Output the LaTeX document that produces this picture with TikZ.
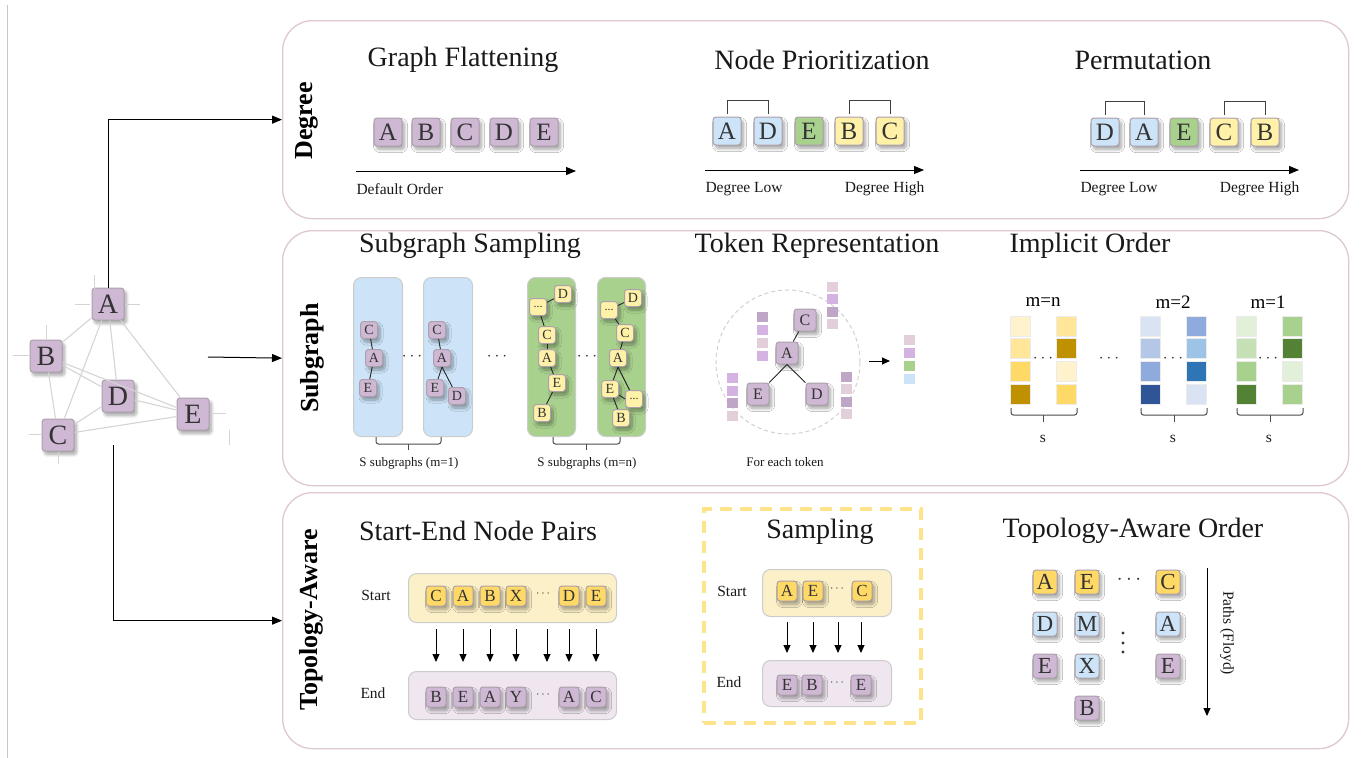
\documentclass[tikz,border=0pt]{standalone}
\usepackage{fontspec}
\setmainfont{Liberation Serif}
\usetikzlibrary{arrows.meta,shadows.blur,calc}
\newcommand\fsz[1]{\fontsize{#1}{#1}\selectfont}
\definecolor{txt}{HTML}{333333}
\definecolor{ndb}{HTML}{ABA0AB}
\definecolor{cpur}{HTML}{CFB8D4}
\definecolor{cblu}{HTML}{CDE4F8}
\definecolor{cgrn}{HTML}{A9D18E}
\definecolor{clyel}{HTML}{FFF2A8}
\definecolor{cdyel}{HTML}{FFD966}
\definecolor{panelc}{HTML}{DEC8D0}
\definecolor{edgec}{HTML}{D4D4D4}
\definecolor{sboxc}{HTML}{FCF0C8}
\definecolor{eboxc}{HTML}{EFE6EF}
\definecolor{colb}{HTML}{CDE4F8}
\definecolor{colg}{HTML}{A9D18E}
\definecolor{tmv}{HTML}{BFA6C6}
\definecolor{tpu}{HTML}{D4B2E2}
\definecolor{tpk}{HTML}{E3CFD9}
\definecolor{cdash}{HTML}{FFE38A}
\definecolor{ya}{HTML}{FFF2CC}\definecolor{yb}{HTML}{FFE699}\definecolor{yc}{HTML}{FFD966}\definecolor{yd}{HTML}{BF9000}
\definecolor{ba}{HTML}{DAE3F3}\definecolor{bb}{HTML}{B4C7E7}\definecolor{bc}{HTML}{8FAADC}\definecolor{bd}{HTML}{2F5597}
\definecolor{be}{HTML}{9DC3E6}\definecolor{bf}{HTML}{2E75B6}
\definecolor{ga}{HTML}{E2F0D9}\definecolor{gb}{HTML}{C5E0B4}\definecolor{gc}{HTML}{A9D18E}\definecolor{gd}{HTML}{548235}
\begin{document}
\begin{tikzpicture}[x=1pt,y=-1pt,
  panel/.style={draw=panelc, line width=1.3pt, rounded corners=30pt, fill=white, inner sep=0pt},
  sect/.style={font=\fsz{26}\bfseries, text=black},
  ttl/.style={font=\fsz{28}, text=black!90},
  lbl/.style={font=\fsz{15.5}, text=black!90},
  sml/.style={font=\fsz{13}, text=black!90},
  tk/.style={draw=ndb, line width=1pt, rounded corners=3pt, inner sep=0pt, text=txt,
     blur shadow={shadow blur steps=10, shadow xshift=2.5pt, shadow yshift=-3.5pt, shadow blur radius=3pt, shadow opacity=35}},
  pu/.style={tk, fill=cpur}, bl/.style={tk, fill=cblu}, gr/.style={tk, fill=cgrn},
  ly/.style={tk, fill=clyel}, dy/.style={tk, fill=cdyel},
  sA/.style={minimum size=32pt, font=\fsz{28}},
  sB/.style={minimum size=28pt, font=\fsz{25}},
  sC/.style={minimum size=24pt, font=\fsz{23}},
  sD/.style={minimum size=22pt, font=\fsz{16}},
  sE/.style={minimum size=20pt, font=\fsz{17}},
  sF/.style={minimum size=17pt, font=\fsz{14}},
  gedge/.style={draw=edgec, line width=1.1pt},
  stub/.style={draw=edgec, line width=1pt},
  tedge/.style={draw=black!85, line width=0.9pt},
  arr/.style={-{Triangle[length=10pt,width=8pt]}, line width=1pt, black},
  arrs/.style={-{Triangle[length=8pt,width=7pt]}, line width=1pt, black},
  brk/.style={draw=black!75, line width=1pt},
  brc/.style={draw=black!70, line width=1pt, rounded corners=2.5pt},
  colbox/.style={draw=black!20, line width=1pt, rounded corners=8pt, inner sep=0pt},
  sq/.style={minimum width=11pt, minimum height=10pt, inner sep=0pt, draw=none},
  iq/.style={minimum size=20pt, inner sep=0pt, draw=black!8, line width=0.8pt},
  pbox/.style={draw=black!20, line width=1pt, rounded corners=8pt, inner sep=0pt},
  dts/.style={font=\fsz{16}, text=black!80, inner sep=0pt}
]
\useasboundingbox (0,0) rectangle (1361,758);
\draw[gray!45, line width=1pt] (7,5) -- (7,758);

% panels
\node[panel, minimum width=1066pt, minimum height=198pt, anchor=north west] (deg) at (282,20) {};
\node[panel, minimum width=1066pt, minimum height=255pt, anchor=north west] (sub) at (282,230) {};
\node[panel, minimum width=1066pt, minimum height=256pt, anchor=north west] (top) at (282,492) {};

\node[sect, rotate=90] (ldeg) at (307,121) {Degree};
\node[sect, rotate=90] (lsub) at (312,358) {Subgraph};
\node[sect, rotate=90] (ltop) at (311,620) {Topology-Aware};

% ---------- graph ----------
\node[pu,sA] (gA) at (108,304) {A};
\node[pu,sA] (gB) at (46,356) {B};
\node[pu,sA] (gC) at (58,435) {C};
\node[pu,sA] (gD) at (118,396) {D};
\node[pu,sA] (gE) at (193,414) {E};
\foreach \a/\b in {gA/gB,gA/gC,gA/gD,gA/gE,gB/gC,gB/gD,gB/gE,gC/gD,gC/gE,gD/gE}
  \draw[gedge] (\a) -- (\b);
\draw[stub] (75,304) -- (90,304) (125,304) -- (140,304) (94,275) -- (94,289);
\draw[stub] (13,355) -- (29,355) (46,325) -- (46,339);
\draw[stub] (29,434) -- (41,434) (58,452) -- (58,464);
\draw[stub] (210,413) -- (226,413) (229,430) -- (229,445);

\coordinate (m0) at (208,357);
\coordinate (b0) at (113,445);
\draw[arr] (gA.north) |- (deg.west);
\draw[arr] (m0) -- (sub.west);
\draw[arr] (b0) |- (top.west);

% ---------- Degree panel ----------
\node[ttl] (t1) at (463,60) {Graph Flattening};
\node[ttl] (t2) at (822,60) {Node Prioritization};
\node[ttl] (t3) at (1143,60) {Permutation};

\node[pu,sB] (f1) at (388,132) {A};
\node[pu,sB] (f2) at (426,132) {B};
\node[pu,sB] (f3) at (465,132) {C};
\node[pu,sB] (f4) at (504,132) {D};
\node[pu,sB] (f5) at (544,132) {E};
\coordinate (fa0) at (356,171); \coordinate (fa1) at (576,171);
\draw[arr] (fa0) -- (fa1);
\node[lbl, anchor=west] (fl) at (353,189) {Default Order};

\node[bl,sB] (p1) at (727,131) {A};
\node[bl,sB] (p2) at (768,131) {D};
\node[gr,sB] (p3) at (809,131) {E};
\node[ly,sB] (p4) at (849,131) {B};
\node[ly,sB] (p5) at (890,131) {C};
\draw[brk] ([yshift=3pt]p1.north) -- ++(0,-13) -| ([yshift=3pt]p2.north);
\draw[brk] ([yshift=3pt]p4.north) -- ++(0,-13) -| ([yshift=3pt]p5.north);
\coordinate (pa0) at (705,170); \coordinate (pa1) at (924,170);
\draw[arr] (pa0) -- (pa1);
\node[lbl, anchor=west] (pl1) at (702,189) {Degree Low};
\node[lbl, anchor=east] (pl2) at (928,189) {Degree High};

\node[bl,sB] (r1) at (1105,132) {D};
\node[bl,sB] (r2) at (1144,132) {A};
\node[gr,sB] (r3) at (1184,132) {E};
\node[ly,sB] (r4) at (1224,132) {C};
\node[ly,sB] (r5) at (1265,132) {B};
\draw[brk] ([yshift=3pt]r1.north) -- ++(0,-13) -| ([yshift=3pt]r2.north);
\draw[brk] ([yshift=3pt]r4.north) -- ++(0,-13) -| ([yshift=3pt]r5.north);
\coordinate (ra0) at (1080,170); \coordinate (ra1) at (1299,170);
\draw[arr] (ra0) -- (ra1);
\node[lbl, anchor=west] (rl1) at (1077,189) {Degree Low};
\node[lbl, anchor=east] (rl2) at (1303,189) {Degree High};

% ---------- Subgraph panel ----------
\node[ttl] (t4) at (470,246) {Subgraph Sampling};
\node[ttl] (t5) at (817,246) {Token Representation};
\node[ttl] (t6) at (1090,246) {Implicit Order};

\node[colbox, fill=colb, minimum width=49pt, minimum height=159pt, anchor=north west] (c1) at (353,277) {};
\node[colbox, fill=colb, minimum width=49pt, minimum height=159pt, anchor=north west] (c2) at (423,277) {};
\node[colbox, fill=colg, minimum width=48pt, minimum height=159pt, anchor=north west] (c3) at (527,277) {};
\node[colbox, fill=colg, minimum width=48pt, minimum height=159pt, anchor=north west] (c4) at (597,277) {};

\node[pu,sF] (a1C) at (369,330) {C};
\node[pu,sF] (a1A) at (374,358) {A};
\node[pu,sF] (a1E) at (368,388) {E};
\draw[tedge] (a1C) -- (a1A); \draw[tedge] (a1A) -- (a1E);

\node[pu,sF] (a2C) at (437,330) {C};
\node[pu,sF] (a2A) at (442,358) {A};
\node[pu,sF] (a2E) at (435,388) {E};
\node[pu,sF] (a2D) at (457,396) {D};
\draw[tedge] (a2C) -- (a2A); \draw[tedge] (a2A.south) -- (a2E); \draw[tedge] (a2A.south) -- (a2D);

\node[ly,sF] (a3D) at (563,294) {D};
\node[ly,sF,font=\fsz{12}] (a3x) at (538,307) {...};
\node[ly,sF] (a3C) at (547,335) {C};
\node[ly,sF] (a3A) at (547,358) {A};
\node[ly,sF] (a3E) at (557,383) {E};
\node[ly,sF] (a3B) at (542,413) {B};
\draw[tedge] (a3D) -- (a3x); \draw[tedge] (a3x) -- (a3C); \draw[tedge] (a3C) -- (a3A);
\draw[tedge] (a3A) -- (a3E); \draw[tedge] (a3E) -- (a3B);

\node[ly,sF] (a4D) at (633,298) {D};
\node[ly,sF,font=\fsz{12}] (a4x) at (609,310) {...};
\node[ly,sF] (a4C) at (625,333) {C};
\node[ly,sF] (a4A) at (618,358) {A};
\node[ly,sF] (a4E) at (610,389) {E};
\node[ly,sF,font=\fsz{12}] (a4y) at (634,399) {...};
\node[ly,sF] (a4B) at (621,418) {B};
\draw[tedge] (a4D) -- (a4x); \draw[tedge] (a4x) -- (a4C); \draw[tedge] (a4C) -- (a4A);
\draw[tedge] (a4A.south) -- (a4E); \draw[tedge] (a4A.south) -- (a4y); \draw[tedge] (a4E) -- (a4y.west); \draw[tedge] (a4E) -- (a4B);

\node[dts] (cd1) at (412,357) {$\cdots$};
\node[dts] (cd2) at (497,357) {$\cdots$};
\node[dts] (cd3) at (587,357) {$\cdots$};

\draw[brc] (376,437) -- (376,444) -- (441,444) -- (441,437);
\draw[brc] (408.5,444) -- (408.5,450);
\draw[brc] (553,437) -- (553,444) -- (620,444) -- (620,437);
\draw[brc] (586.5,444) -- (586.5,450);
\node[sml] (sl1) at (409,463) {S subgraphs (m=1)};
\node[sml] (sl2) at (587,463) {S subgraphs (m=n)};

% token representation
\draw[dashed, draw=black!18, line width=1pt, dash pattern=on 4pt off 3pt] (788,362) circle (72pt);
\node[pu,sD] (tC) at (805,320) {C};
\node[pu,sD] (tA) at (787,353) {A};
\node[pu,sD] (tE) at (758,394) {E};
\node[pu,sD] (tD) at (817,394) {D};
\draw[tedge] (tC) -- (tA); \draw[tedge] (tA.south) -- (tE); \draw[tedge] (tA.south) -- (tD);

\node[sq, fill=tmv] (qa1) at (762,317) {};
\node[sq, fill=tpu] (qa2) at (762,330) {};
\node[sq, fill=tpk] (qa3) at (762,343) {};
\node[sq, fill=tpu] (qa4) at (762,356) {};
\node[sq, fill=tpk] (qc1) at (832,287) {};
\node[sq, fill=tpu] (qc2) at (832,299) {};
\node[sq, fill=tmv] (qc3) at (832,312) {};
\node[sq, fill=tpk] (qc4) at (832,324) {};
\node[sq, fill=tpu] (qe1) at (732,378) {};
\node[sq, fill=tpu] (qe2) at (732,391) {};
\node[sq, fill=tmv] (qe3) at (732,403) {};
\node[sq, fill=tpk] (qe4) at (732,416) {};
\node[sq, fill=tmv] (qd1) at (846,377) {};
\node[sq, fill=tpk] (qd2) at (846,389) {};
\node[sq, fill=tmv] (qd3) at (846,402) {};
\node[sq, fill=tpk] (qd4) at (846,414) {};

\coordinate (ta0) at (869,361); \coordinate (ta1) at (890,361);
\draw[arrs] (ta0) -- (ta1);
\node[sq, fill=tpk] (qo1) at (909,340) {};
\node[sq, fill=tpu] (qo2) at (909,353) {};
\node[sq, fill=cgrn] (qo3) at (909,366) {};
\node[sq, fill=cblu] (qo4) at (909,379) {};
\node[sml] (tl) at (785,462) {For each token};

% implicit order
\node[font=\fsz{19}] (mn) at (1043,302) {m=n};
\node[font=\fsz{19}] (m2) at (1173,302) {m=2};
\node[font=\fsz{19}] (m1) at (1268,302) {m=1};
\foreach \c [count=\i] in {ya,yb,yc,yd} \node[iq, fill=\c] (ia\i) at (1020,{326+22.7*(\i-1)}) {};
\foreach \c [count=\i] in {yb,yd,ya,yc} \node[iq, fill=\c] (ib\i) at (1066,{326+22.7*(\i-1)}) {};
\foreach \c [count=\i] in {ba,bb,bc,bd} \node[iq, fill=\c] (ic\i) at (1150,{326+22.7*(\i-1)}) {};
\foreach \c [count=\i] in {bc,be,bf,ba} \node[iq, fill=\c] (id\i) at (1196,{326+22.7*(\i-1)}) {};
\foreach \c [count=\i] in {ga,gb,gc,gd} \node[iq, fill=\c] (ie\i) at (1246,{326+22.7*(\i-1)}) {};
\foreach \c [count=\i] in {gc,gd,ga,gc} \node[iq, fill=\c] (if\i) at (1292,{326+22.7*(\i-1)}) {};
\node[dts] (id1x) at (1043,359) {$\cdots$};
\node[dts] (id2x) at (1109,359) {$\cdots$};
\node[dts] (id3x) at (1173,359) {$\cdots$};
\node[dts] (id4x) at (1268,359) {$\cdots$};
\draw[brc] (1011,408) -- (1011,415) -- (1077,415) -- (1077,408);
\draw[brc] (1043.5,415) -- (1043.5,422);
\draw[brc] (1141,408) -- (1141,415) -- (1207,415) -- (1207,408);
\draw[brc] (1174,415) -- (1174,422);
\draw[brc] (1237,408) -- (1237,415) -- (1303,415) -- (1303,408);
\draw[brc] (1270,415) -- (1270,422);
\node[lbl] (s1l) at (1043,439) {s};
\node[lbl] (s2l) at (1173,439) {s};
\node[lbl] (s3l) at (1269,439) {s};

% ---------- Topology panel ----------
\node[ttl] (t7) at (478,531) {Start-End Node Pairs};
\node[ttl] (t9) at (1133,531) {Topology-Aware Order};

\node[pbox, fill=sboxc, minimum width=208pt, minimum height=49pt, anchor=north west] (sb) at (408,573) {};
\node[pbox, fill=eboxc, minimum width=208pt, minimum height=48pt, anchor=north west] (eb) at (408,671) {};
\node[lbl] (stl) at (376,595) {Start};
\node[lbl] (enl) at (373,693) {End};
\node[dy,sE] (s1) at (436,596) {C};
\node[dy,sE] (s2) at (463,596) {A};
\node[dy,sE] (s3) at (490,596) {B};
\node[dy,sE] (s4) at (516,596) {X};
\node[dts,font=\fsz{13}] (s5) at (543,594) {$\cdots$};
\node[dy,sE] (s6) at (569,596) {D};
\node[dy,sE] (s7) at (596,596) {E};
\node[pu,sE] (e1) at (436,697) {B};
\node[pu,sE] (e2) at (463,697) {E};
\node[pu,sE] (e3) at (490,697) {A};
\node[pu,sE] (e4) at (516,697) {Y};
\node[dts,font=\fsz{13}] (e5) at (543,695) {$\cdots$};
\node[pu,sE] (e6) at (569,697) {A};
\node[pu,sE] (e7) at (596,697) {C};
\foreach \x in {436,463,490,516,547,569,596}
  \draw[arrs, shorten <=6pt, shorten >=9pt] (\x,0 |- sb.south) -- (\x,0 |- eb.north);

% sampling
\node[draw=cdash, line width=3.5pt, dash pattern=on 12pt off 8pt, minimum width=217pt, minimum height=214pt, anchor=north west, inner sep=0pt] (smp) at (702,507) {};
\node[ttl] (t8) at (820,532) {Sampling};
\node[pbox, fill=sboxc, minimum width=129pt, minimum height=47pt, anchor=north west] (sb2) at (762,569) {};
\node[pbox, fill=eboxc, minimum width=129pt, minimum height=46pt, anchor=north west] (eb2) at (762,660) {};
\node[lbl] (stl2) at (732,591) {Start};
\node[lbl] (enl2) at (729,682) {End};
\node[dy,sE] (u1) at (787,591) {A};
\node[dy,sE] (u2) at (813,591) {E};
\node[dts,font=\fsz{13}] (u3) at (837,589) {$\cdots$};
\node[dy,sE] (u4) at (862,591) {C};
\node[pu,sE] (v1) at (787,685) {E};
\node[pu,sE] (v2) at (812,685) {B};
\node[dts,font=\fsz{13}] (v3) at (837,683) {$\cdots$};
\node[pu,sE] (v4) at (861,685) {E};
\foreach \x in {787,813,838,861}
  \draw[arrs, shorten <=5pt, shorten >=7pt] (\x,0 |- sb2.south) -- (\x,0 |- eb2.north);

% topology-aware order
\node[dy,sC] (o11) at (1045,582) {A};
\node[dy,sC] (o12) at (1087,582) {E};
\node[dts,font=\fsz{20}] (o1x) at (1129,580) {$\cdots$};
\node[dy,sC] (o13) at (1168,582) {C};
\node[bl,sC] (o21) at (1045,624) {D};
\node[bl,sC] (o22) at (1087,624) {M};
\node[bl,sC] (o23) at (1168,624) {A};
\node[pu,sC] (o31) at (1045,666) {E};
\node[bl,sC] (o32) at (1087,666) {X};
\node[pu,sC] (o33) at (1168,666) {E};
\node[pu,sC] (o42) at (1087,708) {B};
\fill[black!80] (1123,633) circle (1.6pt) (1123,643) circle (1.6pt) (1123,652) circle (1.6pt);
\coordinate (oa0) at (1207,568); \coordinate (oa1) at (1207,716);
\draw[arrs] (oa0) -- (oa1);
\node[lbl, rotate=-90] (pf) at (1227,633) {Paths (Floyd)};
\end{tikzpicture}
\end{document}
